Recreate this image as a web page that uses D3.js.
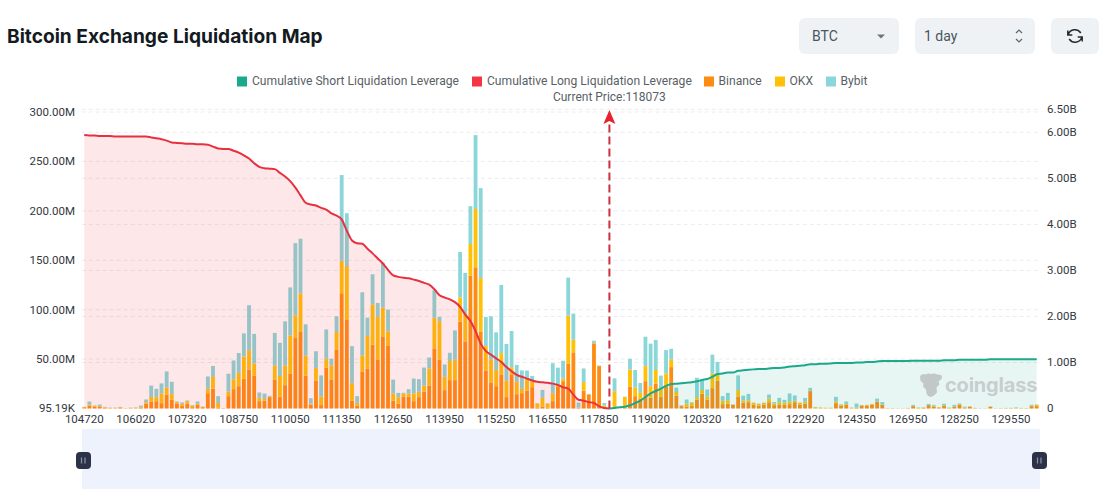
<!DOCTYPE html>
<html><head><meta charset="utf-8">
<script src="https://d3js.org/d3.v7.min.js"></script>
<style>
html,body{margin:0;padding:0;background:#fff;overflow:hidden}
svg{display:block}
text{font-family:Roboto,sans-serif}
</style></head><body>
<svg id="c" width="1108" height="501"></svg>
<script>
const categories=[
104720,104850,104980,105110,105240,105370,105500,105630,105760,105890,
106020,106150,106280,106410,106540,106670,106800,106930,107060,107190,
107320,107463,107606,107749,107892,108035,108178,108321,108464,108607,
108750,108880,109010,109140,109270,109400,109530,109660,109790,109920,
110050,110180,110310,110440,110570,110700,110830,110960,111090,111220,
111350,111480,111610,111740,111870,112000,112130,112260,112390,112520,
112650,112780,112910,113040,113170,113300,113430,113560,113690,113820,
113950,114080,114210,114340,114470,114600,114730,114860,114990,115120,
115250,115380,115510,115640,115770,115900,116030,116160,116290,116420,
116550,116680,116810,116940,117070,117200,117330,117460,117590,117720,
117850,117967,118084,118201,118318,118435,118552,118669,118786,118903,
119020,119150,119280,119410,119540,119670,119800,119930,120060,120190,
120320,120450,120580,120710,120840,120970,121100,121230,121360,121490,
121620,121750,121880,122010,122140,122270,122400,122530,122660,122790,
122920,123063,123206,123349,123492,123635,123778,123921,124064,124207,
124350,124610,124870,125130,125390,125650,125910,126170,126430,126690,
126950,127080,127210,127340,127470,127600,127730,127860,127990,128120,
128250,128380,128510,128640,128770,128900,129030,129160,129290,129420,
129550,129680,129810,129940,130070,130200];
const xTickValues=[104720,106020,107320,108750,110050,111350,112650,113950,115250,116550,117850,119020,120320,121620,122920,124350,126950,128250,129550];
const leftTicks=[0.09519,50,100,150,200,250,300];
const leftLabels=["95.19K","50.00M","100.00M","150.00M","200.00M","250.00M","300.00M"];
const rightTicks=[0,1,2,3,4,5,6,6.5];
const rightLabels=["0","1.00B","2.00B","3.00B","4.00B","5.00B","6.00B","6.50B"];
const currentBin=118084, currentLabel="Current Price:118073";
const binance=[
1.3,3,2,1.7,.7,.3,.3,1,.2,.3,.3,.7,5,7,7.4,5.4,14,9,4.7,3,
5,1.3,3.7,1.3,15.5,20,1,.3,12.5,19.6,22.6,30,39.5,33,7.4,8,11.5,29,12,23.6,
35,71.3,77.4,33.4,4,28.4,3.4,41.5,29.4,59.8,116.6,89.5,8,3,37.5,40.5,64.5,49.7,73,63.9,
8,5,11.8,12,7.4,11.5,17.2,23.3,60.8,49.3,18.6,28.7,28.7,87.8,67.9,134.5,142.9,78,38.5,26.4,
22.6,34.5,11.5,34.5,14.5,15.5,18.2,21.6,.7,2,1,7.4,22,27.7,45.6,56.8,.5,18.2,14.2,65.9,
42.9,.7,0,.5,.2,.7,22.3,12.5,9.8,27.7,10.8,25,11.8,22,41.9,13,2.4,1.7,3,9,
15,9,20.6,28,4.4,5,3.7,12.2,6,6.4,3.7,3,4,6.4,3.4,3.7,3.7,4.4,6.4,4,
5,17.6,.3,.3,.2,.2,5.4,3,3.7,.3,.7,3,3,3.7,7,3.7,.2,.2,.1,.1,
.2,2.4,.3,.5,3.4,2,.5,2.7,.3,1.7,3.7,.5,1.7,.3,.1,.1,1.7,.1,.2,.2,
.3,.3,.2,.2,2.4,2.4];
const okx=[
.2,1,.7,1,.6,.3,.3,.3,.1,.3,.3,1,1.4,4.7,4,10,7,5.5,1.7,1.7,
2.4,1.4,1,.4,4.4,12,4.5,.1,4.7,10,13.5,22.5,19.5,12.5,3.4,1.7,.7,14.5,21,20,
38.9,23,39,20,1,12.5,8.8,8.8,14.2,17.6,32.8,54.7,17.6,2.7,16.2,32.8,40.9,42.9,29,14.2,
7.1,6.4,3.4,3,8,5.4,6,17.2,31,39,13.5,19.3,20.6,24.7,28.4,32,59,54,24.7,23.3,
16.2,21.6,16.6,7.4,12.5,4.4,12.8,5.4,4.4,8.8,4,8,2.4,2.4,48.3,12.8,.5,8.4,.3,.3,
.3,2.4,0,17,.2,11,17.2,8.8,6,15.2,11.8,14,9,13.5,7.8,3.7,.7,3.4,2.7,2.5,
3.7,3.4,15,7.4,3.4,3.4,.3,6.4,2,2,2,1.7,1.7,3.7,1.7,2.7,2.4,2.4,1.4,1.7,
2,.3,1,.7,.5,.5,1.7,1,1,.5,.3,.3,.7,.7,.3,.4,.1,.1,.1,.1,
.3,.3,.5,.5,.3,1,.7,.7,.5,.3,.7,.7,.3,.3,.1,.1,.3,.1,.1,.3,
.3,.1,.3,.1,.7,1.4];
const bybit=[
.1,3,.4,1.3,.3,.3,.3,.3,.1,.3,.5,1.3,2.7,11.5,8.5,10,16.5,12.5,.7,1.4,
.7,.7,2.4,.3,12.5,11,7,.1,18,19,20,23.5,45.5,30,5.4,5.4,.7,33,33.5,44.6,
48.6,73,55.4,31.8,5.4,17,21.3,29.7,6.8,15.9,86.8,53.4,37.5,6.8,63.9,18.6,30.4,14.2,45.6,22,
14.2,4.4,.7,4.5,14.9,12.8,18.2,11.1,27.7,4.4,12.5,8.4,29.7,45.9,40.9,38.2,74.7,91,29.4,43.6,
38.2,68.9,37.2,36.5,17.2,18.6,7.4,6,.3,8,.3,30.4,16.9,18.2,38.5,26.4,5,13.9,.3,2.4,
.3,2.4,0,13,.3,.3,10.8,17.6,10,29.7,43,30.4,12.5,23.6,10.8,4.4,.3,4,.7,19.6,
9.8,6.8,18.9,11.8,4.7,7.4,.3,14.9,5,6.4,.3,.3,.3,4,1.4,4.4,2.7,8.4,5.4,.3,
3.7,3,.3,.1,.1,.1,4.7,.4,2.4,.2,4,.3,.1,.3,2.7,2.4,.1,.1,.1,.1,
.1,1,.3,.2,1,.7,.2,1.4,.2,1.7,.7,.7,.3,.1,.1,.1,.1,.1,.1,.1,
.1,.7,.1,.2,.7,.3];
const longLeverage=[
5.94,5.93,5.93,5.92,5.92,5.92,5.91,5.91,5.91,5.91,5.91,5.91,5.91,5.89,5.87,5.85,5.82,5.78,5.77,5.76,
5.75,5.75,5.74,5.74,5.73,5.69,5.65,5.64,5.64,5.60,5.56,5.50,5.43,5.33,5.25,5.22,5.21,5.20,5.12,5.04,
4.94,4.80,4.63,4.47,4.43,4.41,4.36,4.32,4.24,4.19,4.11,3.86,3.65,3.59,3.58,3.47,3.37,3.26,3.15,3.01,
2.89,2.86,2.84,2.83,2.80,2.77,2.73,2.69,2.59,2.46,2.41,2.37,2.31,2.21,2.04,1.90,1.68,1.41,1.25,1.17,
1.09,1.01,.90,.81,.73,.69,.65,.61,.58,.57,.56,.54,.51,.46,.43,.30,.19,.17,.14,.12,
.05,.01,0];
const shortLeverage=[
0,.01,.03,.04,.07,.12,.17,.25,.33,.38,.43,.49,.53,.54,.55,.56,.57,.59,.62,.64,
.69,.75,.76,.78,.78,.82,.83,.84,.85,.86,.86,.87,.88,.88,.89,.91,.92,.93,.94,.96,
.96,.97,.97,.98,.99,.99,.99,.99,1.0,1.0,1.01,1.01,1.02,1.03,1.03,1.03,1.03,1.03,1.03,1.04,
1.04,1.04,1.04,1.04,1.04,1.05,1.05,1.05,1.06,1.06,1.06,1.06,1.06,1.06,1.07,1.07,1.07,1.07,1.07,1.07,1.07,1.07,1.07,1.07];
const legendNames=["Cumulative Short Liquidation Leverage","Cumulative Long Liquidation Leverage","Binance","OKX","Bybit"];
const legendColors=["#1aa98a","#f23645","#ff8c12","#ffc107","#8ad6d8"];

const svg=d3.select("#c");
const left=81.7,right=1039.3,base=408.5;
const x=d3.scaleBand().domain(categories).range([left,right]).paddingInner(.26).paddingOuter(.13);
const cx=d=>x(d)+x.bandwidth()/2;
const yL=d3.scaleLinear().domain([0,300]).range([base,112]);
const yR=d3.scaleLinear().domain([0,6.5]).range([base,109.3]);

// header
svg.append("text").attr("x",7).attr("y",42.5).attr("fill","#141a21").style("font-family","Inter").style("font-weight",700).style("font-size","19.15px").text("Bitcoin Exchange Liquidation Map");
function ctrl(x0,w){return svg.append("rect").attr("x",x0).attr("y",18).attr("width",w).attr("height",36).attr("rx",6).attr("fill","#eff2f5");}
ctrl(799,100);ctrl(915,120);ctrl(1051,48);
svg.append("text").attr("x",812).attr("y",41).attr("font-size",14).attr("fill","#4a5560").text("BTC");
svg.append("path").attr("d","M877 34.5h8l-4 4z").attr("fill","#6b7580");
svg.append("text").attr("x",924).attr("y",41).attr("font-size",14).attr("fill","#4a5560").text("1 day");
svg.append("path").attr("d","M1016 33l3-3 3 3M1016 39l3 3 3-3").attr("fill","none").attr("stroke","#5a6570").attr("stroke-width",1.2);
svg.append("path").attr("d","M1068.3 34.5a7 7 0 0 1 12.5-1.5M1081.7 37.5a7 7 0 0 1-12.5 1.5M1067.8 30.5v4.5h4.5M1082.2 41.5v-4.5h-4.5").attr("fill","none").attr("stroke","#222b33").attr("stroke-width",1.5);

// legend
const legX=[237,472,704,775,826];
legendNames.forEach((n,i)=>{
  svg.append("rect").attr("x",legX[i]).attr("y",76.5).attr("width",10).attr("height",10).attr("fill",legendColors[i]);
  svg.append("text").attr("x",legX[i]+(i<2?15:14.5)).attr("y",85).attr("font-size",12.1).attr("fill","#5a5f66").text(n);
});

// grid
const grid=svg.append("g").attr("stroke","#ececec").attr("stroke-dasharray","4 3");
[...leftTicks.slice(1).map(v=>yL(v)),...rightTicks.slice(1).map(v=>yR(v))].forEach(y=>grid.append("line").attr("x1",left).attr("x2",right).attr("y1",y).attr("y2",y));

// bars
const rows=categories.map((c,i)=>({c,binance:binance[i],okx:okx[i],bybit:bybit[i]}));
const stack=d3.stack().keys(["binance","okx","bybit"])(rows);
svg.append("g").selectAll("g").data(stack).join("g").attr("fill",(d,i)=>legendColors[i+2])
 .selectAll("rect").data(d=>d).join("rect")
 .attr("x",d=>x(d.data.c)).attr("width",x.bandwidth())
 .attr("y",d=>yL(d[1])).attr("height",d=>yL(d[0])-yL(d[1]));

// cumulative areas and lines
const longCats=categories.slice(0,longLeverage.length);
const shortCats=categories.slice(categories.length-shortLeverage.length);
const area=d3.area().x(d=>cx(d[0])).y0(base).y1(d=>yR(d[1])).curve(d3.curveMonotoneX);
const line=d3.line().x(d=>cx(d[0])).y(d=>yR(d[1])).curve(d3.curveMonotoneX);
const longPts=longCats.map((c,i)=>[c,longLeverage[i]]);
const shortPts=shortCats.map((c,i)=>[c,shortLeverage[i]]);
svg.append("path").attr("d",area(longPts)).attr("fill","#f23645").attr("fill-opacity",.12);
svg.append("path").attr("d",area(shortPts)).attr("fill","#1aa98a").attr("fill-opacity",.1);
svg.append("path").attr("d",line(shortPts)).attr("fill","none").attr("stroke","#1aa98a").attr("stroke-width",2);
svg.append("path").attr("d",line(longPts)).attr("fill","none").attr("stroke","#e8303f").attr("stroke-width",2);

// current price marker
const px=cx(currentBin);
svg.append("line").attr("x1",px).attr("x2",px).attr("y1",base).attr("y2",122).attr("stroke","#cc2f3e").attr("stroke-width",2).attr("stroke-dasharray","8 4");
svg.append("path").attr("transform",`translate(${px},0)`).attr("d","M0 110L6 124L0 121L-6 124Z").attr("fill","#e8202f");
svg.append("text").attr("x",px).attr("y",101).attr("text-anchor","middle").attr("font-size",12).attr("fill","#5a5f66").text(currentLabel);

// axes
const axisStyle=g=>{g.select(".domain").remove();g.selectAll(".tick line").remove();g.selectAll("text").attr("fill","#33383e").style("font-size","11.5px").style("font-family","Roboto");};
svg.append("g").attr("transform","translate(0,"+base+")").call(d3.axisBottom(x).tickValues(xTickValues).tickSize(0).tickPadding(6)).call(axisStyle);
svg.append("g").attr("transform","translate(81,-0.3)").call(d3.axisLeft(yL).tickValues(leftTicks).tickFormat((d,i)=>leftLabels[i]).tickSize(0).tickPadding(6)).call(axisStyle);
svg.append("g").attr("transform","translate(1041,-0.3)").call(d3.axisRight(yR).tickValues(rightTicks).tickFormat((d,i)=>rightLabels[i]).tickSize(0).tickPadding(6)).call(axisStyle);

// watermark
svg.append("path").attr("d","M920 376q3-3 6-1.500q2-1.500 5-.5q4-1 6 .5q4-.5 5 1.500l-.5 3-3 2.500 1 3-3 3 .5 5-3 3-3 1.500-3-1-1.500-2.500-.5-4-3-3 .5-3-3-2.500z").attr("fill","#c2c8c8");
svg.append("text").attr("x",945).attr("y",392).attr("font-size",20).attr("font-weight",700).attr("fill","#c8cdce").style("font-family","Inter").style("letter-spacing","-.2px").text("coinglass");

// data zoom
svg.append("rect").attr("x",82).attr("y",429).attr("width",958).attr("height",60).attr("fill","#eef2fd");
[76,1032].forEach(a=>{
  svg.append("rect").attr("x",a).attr("y",452).attr("width",15).attr("height",17).attr("rx",4).attr("fill","#2c3349");
  svg.append("path").attr("d",`M${a+5.5} 457.500v6M${a+9} 457.500v6`).attr("stroke","#8a90a0").attr("stroke-width",1.3);
});
</script>
</body></html>
